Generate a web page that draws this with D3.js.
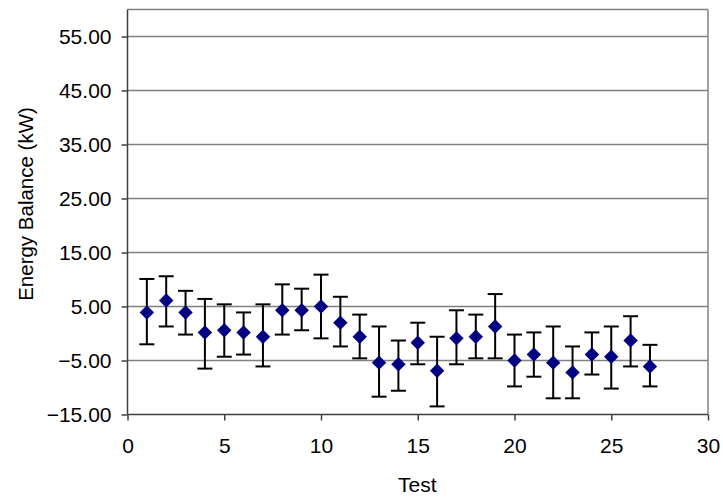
<!DOCTYPE html>
<html>
<head>
<meta charset="utf-8">
<script src="https://cdn.jsdelivr.net/npm/d3@7"></script>
<style>
  html, body { margin: 0; padding: 0; background: #fff; }
  svg { display: block; }
  text { font-family: "Liberation Sans", Arial, sans-serif; fill: #000; }
</style>
</head>
<body>
<svg id="chart" width="723" height="497"></svg>
<script>
// ---- Data ----
const tests  = [1,2,3,4,5,6,7,8,9,10,11,12,13,14,15,16,17,18,19,20,21,22,23,24,25,26,27];
const values = [3.9, 6.1, 3.9, 0.2, 0.6, 0.2, -0.6, 4.3, 4.3, 5.0, 2.0, -0.6, -5.4, -5.7, -1.7, -6.9, -0.9, -0.6, 1.3, -5.0, -3.9, -5.4, -7.2, -3.9, -4.3, -1.3, -6.1];
const upper  = [10.1, 10.6, 7.9, 6.4, 5.4, 3.9, 5.4, 9.1, 8.3, 10.9, 6.8, 3.5, 1.3, -1.3, 2.0, -0.6, 4.3, 3.5, 7.3, -0.2, 0.2, 1.3, -2.4, 0.2, 1.3, 3.2, -2.1];
const lower  = [-2.0, 1.3, -0.2, -6.5, -4.3, -3.9, -6.1, -0.2, 0.6, -0.9, -2.4, -4.6, -11.7, -10.6, -5.7, -13.5, -5.7, -4.6, -4.6, -9.8, -8.0, -12.0, -12.0, -7.6, -10.2, -6.1, -9.8];
const xTicks = [0, 5, 10, 15, 20, 25, 30];
const yTicks = [-15, -5, 5, 15, 25, 35, 45, 55];
const xTitle = "Test";
const yTitle = "Energy Balance (kW)";

(function () {
// ---- Layout ----
const svg = d3.select("#chart");
const pL = 127.5, pR = 708, pT = 9.5, pB = 414.5;
const x = d3.scaleLinear().domain([0, 30]).range([pL, pR]);
const y = d3.scaleLinear().domain([-15, 60]).range([pB, pT]);

const data = tests.map((t, i) => ({ t, v: values[i], hi: upper[i], lo: lower[i] }));

// gridlines
svg.append("g").selectAll("line").data(yTicks.filter(d => d > -15)).join("line")
  .attr("x1", pL).attr("x2", pR)
  .attr("y1", d => y(d)).attr("y2", d => y(d))
  .attr("stroke", "#808080").attr("stroke-width", 1.5);

// frame top & right
svg.append("line").attr("x1", pL).attr("x2", pR).attr("y1", pT).attr("y2", pT)
  .attr("stroke", "#808080").attr("stroke-width", 1.5);
svg.append("line").attr("x1", pR).attr("x2", pR).attr("y1", pT).attr("y2", pB)
  .attr("stroke", "#808080").attr("stroke-width", 1.5);

// axes
const yAxis = d3.axisLeft(y).tickValues(yTicks).tickSize(6).tickPadding(10)
  .tickFormat(d3.format(".2f"));
const gy = svg.append("g").attr("transform", `translate(${pL},0)`).call(yAxis);
gy.select(".domain").remove();
gy.append("line").attr("x1", 0).attr("x2", 0).attr("y1", pT).attr("y2", pB)
  .attr("stroke", "#404040").attr("stroke-width", 1.5);
gy.selectAll(".tick line").attr("stroke", "#404040").attr("stroke-width", 1.5);
gy.selectAll(".tick text").style("font-size", "21px").attr("fill", "#000");

const xAxis = d3.axisBottom(x).tickValues(xTicks).tickSize(6).tickPadding(17.5)
  .tickFormat(d3.format("d"));
const gx = svg.append("g").attr("transform", `translate(0,${pB})`).call(xAxis);
gx.select(".domain").remove();
gx.append("line").attr("x1", pL).attr("x2", pR).attr("y1", 0).attr("y2", 0)
  .attr("stroke", "#404040").attr("stroke-width", 1.5);
gx.selectAll(".tick line").attr("stroke", "#404040").attr("stroke-width", 1.5);
gx.selectAll(".tick text").style("font-size", "21px").attr("fill", "#000");

// titles
svg.append("text").attr("x", (pL + pR) / 2 - 0.5).attr("y", 491.5)
  .attr("text-anchor", "middle").style("font-size", "21px").text(xTitle);
svg.append("text").attr("transform", "translate(32.5,204) rotate(-90)")
  .attr("text-anchor", "middle").style("font-size", "20.5px").text(yTitle);

// error bars
const cap = 7.5;
const eb = svg.append("g").attr("stroke", "#000").attr("stroke-width", 2);
eb.selectAll("line.v").data(data).join("line").attr("class", "v")
  .attr("x1", d => x(d.t)).attr("x2", d => x(d.t))
  .attr("y1", d => y(d.hi)).attr("y2", d => y(d.lo));
eb.selectAll("line.h").data(data).join("line").attr("class", "h")
  .attr("x1", d => x(d.t) - cap).attr("x2", d => x(d.t) + cap)
  .attr("y1", d => y(d.hi)).attr("y2", d => y(d.hi));
eb.selectAll("line.l").data(data).join("line").attr("class", "l")
  .attr("x1", d => x(d.t) - cap).attr("x2", d => x(d.t) + cap)
  .attr("y1", d => y(d.lo)).attr("y2", d => y(d.lo));

// diamond markers
const sym = d3.symbol().type(d3.symbolSquare).size(104);
svg.append("g").selectAll("path").data(data).join("path")
  .attr("d", sym)
  .attr("transform", d => `translate(${x(d.t)},${y(d.v)}) rotate(45)`)
  .attr("fill", "#000080");
})();
</script>
</body>
</html>
